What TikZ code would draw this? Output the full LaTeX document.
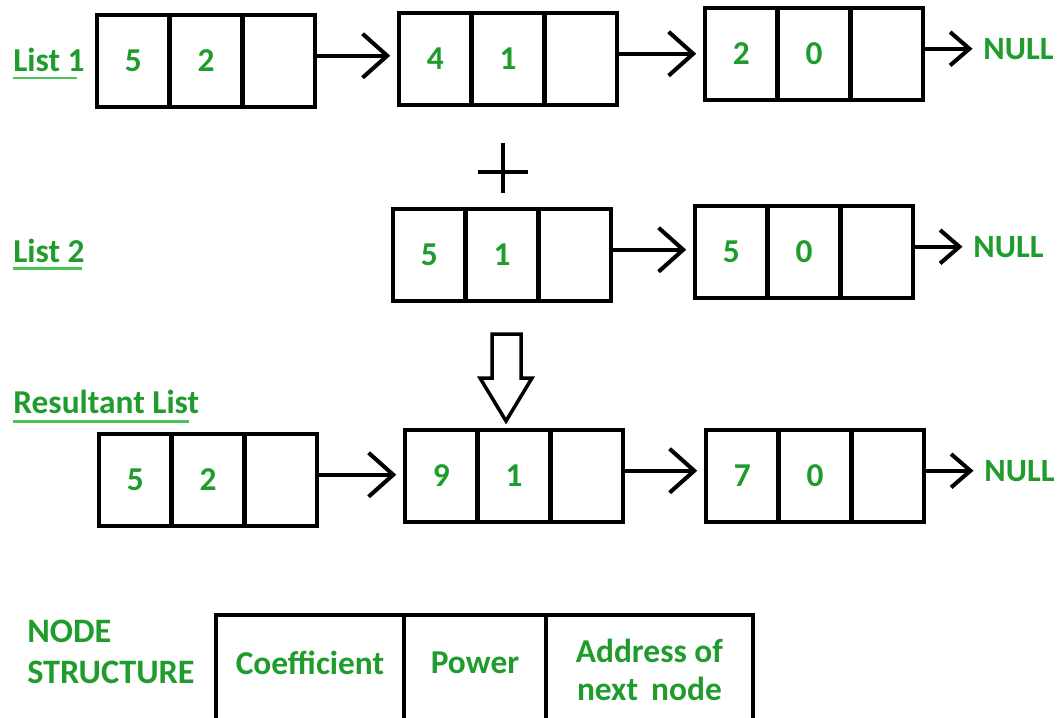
\documentclass[tikz,border=0pt]{standalone}
\usepackage{fontspec}
\setmainfont{Carlito}
\usetikzlibrary{positioning, arrows.meta}
\definecolor{gfg}{RGB}{31,156,44}
\definecolor{gfgline}{RGB}{72,196,88}
\begin{document}
\begin{tikzpicture}[x=0.02cm, y=-0.02cm, cell/.style={shape=rectangle, draw, line width=2.6pt, minimum width=1.454cm, minimum height=1.84cm, inner sep=0pt, outer sep=0pt, text=gfg, font=\bfseries\fontsize{19}{22}\selectfont}, field/.style={cell, minimum height=2.2cm, align=center, font=\bfseries\fontsize{19}{22}\selectfont}, tag/.style={text=gfg, inner sep=0pt, font=\bfseries\fontsize{19}{23}\selectfont}, link/.style={line width=2.3pt, -{Straight Barb[length=14pt, width=25pt]}}, endlink/.style={line width=2.3pt, -{Straight Barb[length=11pt, width=19pt]}}, uline/.style={gfgline, line width=1.6pt}]
\clip (0,0) rectangle (1060,717);
\foreach \n/\x/\y/\cf/\pw in {A 1/97/61/5/2, A 2/399/59/4/1, A 3/705/54/2/0, B 1/393/255/5/1, B 2/695/252/5/0, C 1/99/480/5/2, C 2/405/476/9/1, C 3/706/476/7/0} {
	\node[cell, anchor=west] (coef \n) at (\x, \y) {\cf};
	\node[cell, right=0pt of coef \n] (pow \n) {\pw};
	\node[cell, right=0pt of pow \n] (next \n) {};
}
\foreach \s/\t in {A 1/A 2, A 2/A 3, B 1/B 2, C 1/C 2, C 2/C 3}
	\draw[link, shorten >=5pt] ([yshift=3pt]next \s.east) -- ([yshift=3pt]next \s.east -| coef \t.west);
\foreach \s in {A 3, B 2, C 3} {
	\node[tag, font=\bfseries\fontsize{18.5}{22}\selectfont, right=1.2cm of next \s, yshift=3pt] (null \s) {NULL};
	\draw[endlink, shorten >=6pt] ([yshift=3pt]next \s.east) -- (null \s.west);
}
\node[tag, anchor=base west] (list 1) at (13,71) {List 1};
\draw[uline] ([yshift=-4pt]list 1.base west) -- ++(64,0);
\node[tag, anchor=base west] (list 2) at (13,262) {List 2};
\draw[uline] ([yshift=-3.5pt]list 2.base west) -- ++(69,0);
\node[tag, anchor=base west] (result) at (13,413) {Resultant List};
\draw[uline] ([yshift=-5pt]result.base west) -- ++(176,0);
\draw[line width=2.4pt] (478,172) -- (528,172) (503,143) -- (503,193);
\draw[line width=2pt] (492,334) -- (521,334) -- (521,378) -- (532,378) -- (506,421) -- (480,378) -- (492,378) -- cycle;
\node[tag, anchor=north west, align=left, font=\bfseries\fontsize{19.5}{23}\selectfont] (struct) at (27,620) {NODE\\STRUCTURE};
\node[field, anchor=north west, minimum width=3.76cm, text depth=8pt] (coef field) at (216,615) {Coefficient};
\node[field, right=0pt of coef field, minimum width=2.84cm, text depth=8pt] (pow field) {Power};
\node[field, right=0pt of pow field, minimum width=4.14cm] (next field) {Address of\\next\, node};
\end{tikzpicture}
\end{document}
